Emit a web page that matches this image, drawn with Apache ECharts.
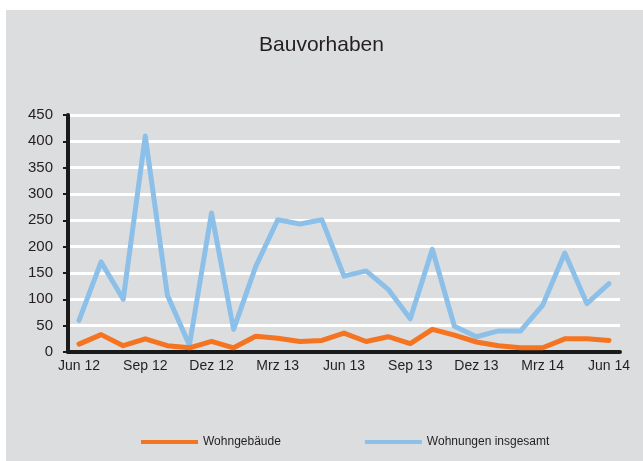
<!DOCTYPE html>
<html>
<head>
<meta charset="utf-8">
<script src="https://cdn.jsdelivr.net/npm/echarts@6/dist/echarts.min.js"></script>
<style>
    html, body { margin: 0; padding: 0; background: #fff; }
    #chart { width: 643px; height: 461px; }
</style>
</head>
<body>
<div id="chart"></div>
<script>
    // Monate Jun 12 - Jun 14
    var months = ['Jun 12', 'Jul 12', 'Aug 12', 'Sep 12', 'Okt 12', 'Nov 12', 'Dez 12',
        'Jan 13', 'Feb 13', 'Mrz 13', 'Apr 13', 'Mai 13', 'Jun 13', 'Jul 13', 'Aug 13',
        'Sep 13', 'Okt 13', 'Nov 13', 'Dez 13', 'Jan 14', 'Feb 14', 'Mrz 14', 'Apr 14',
        'Mai 14', 'Jun 14'];
    var wohngebaeude = [15, 33, 12, 25, 12, 8, 20, 8, 30, 26, 20, 22, 36, 20, 29,
        16, 43, 32, 19, 12, 8, 8, 25, 25, 22];
    var wohnungen = [60, 171, 100, 410, 108, 13, 264, 43, 162, 251, 243, 251, 144, 154, 119,
        63, 195, 49, 29, 40, 40, 89, 188, 92, 130];
    var yTicks = [0, 450, 50];

    var myChart = echarts.init(document.getElementById('chart'));
    var font = 'Liberation Sans';

    var option = {
        backgroundColor: '#fff',
        animation: false,
        textStyle: { fontFamily: font },
        graphic: [{
            type: 'rect',
            z: -10,
            shape: { x: 6, y: 10, width: 643, height: 461 },
            style: { fill: '#dcdddf' }
        }],
        title: {
            text: 'Bauvorhaben',
            left: 'center',
            top: 30,
            textStyle: { fontFamily: font, fontSize: 21, fontWeight: 'normal', color: '#231f20' }
        },
        legend: {
            left: 141,
            top: 436,
            padding: 0,
            itemGap: 84,
            icon: 'rect',
            itemWidth: 57,
            itemHeight: 4,
            textStyle: { fontFamily: font, fontSize: 12, color: '#231f20' },
            data: ['Wohngebäude', 'Wohnungen insgesamt']
        },
        grid: {
            left: 68,
            right: 23,
            top: 115,
            bottom: 109
        },
        xAxis: {
            type: 'category',
            boundaryGap: true,
            data: months,
            axisLine: { lineStyle: { color: '#1a1a1a', width: 4 } },
            axisTick: { interval: 2, length: 4, lineStyle: { color: '#1a1a1a', width: 3 } },
            axisLabel: { interval: 2, color: '#231f20', fontSize: 14, margin: 7, fontFamily: font }
        },
        yAxis: {
            type: 'value',
            min: yTicks[0],
            max: yTicks[1],
            interval: yTicks[2],
            axisLine: { show: true, lineStyle: { color: '#1a1a1a', width: 4 } },
            axisTick: { show: true, length: 5, lineStyle: { color: '#1a1a1a', width: 2 } },
            axisLabel: { color: '#231f20', fontSize: 15, margin: 15, fontFamily: font },
            splitLine: { lineStyle: { color: '#ffffff', width: 3 } }
        },
        series: [
            {
                name: 'Wohngebäude',
                type: 'line',
                data: wohngebaeude,
                showSymbol: false,
                color: '#f47421',
                lineStyle: { width: 5, join: 'round', cap: 'round' },
                z: 3
            },
            {
                name: 'Wohnungen insgesamt',
                type: 'line',
                data: wohnungen,
                showSymbol: false,
                color: '#8cc0e8',
                lineStyle: { width: 5, join: 'round', cap: 'round' },
                z: 2
            }
        ]
    };
    myChart.setOption(option);
</script>
</body>
</html>
